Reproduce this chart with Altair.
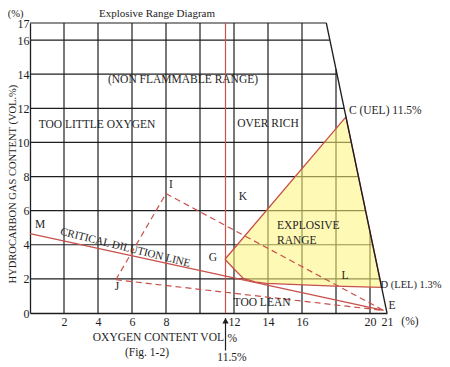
import altair as alt
import pandas as pd

FONT = "Liberation Serif"
RED = "#c8504a"
INK = "#1e1e1e"

# ---- data ----
x_ticks = [2, 4, 6, 8, 12, 14, 16, 20, 21]
y_ticks = [0, 2, 4, 6, 8, 10, 12, 14, 16, 17]

hgrid_y = [2, 4, 6, 8, 10, 12, 14, 16, 17]
hgrid_xend = [20.58, 20.16, 19.74, 19.32, 18.90, 18.48, 18.06, 17.64, 17.43]
vgrid_x = [2, 4, 6, 8, 10, 12, 14, 16, 18, 20]
vgrid_yend = [17, 17, 17, 17, 17, 17, 17, 17, 14.29, 4.76]

boundary_x = [17.43, 21.0]
boundary_y = [17.0, 0.0]

# explosive range polygon: G -> C -> D -> lower edge back to G
zone_x = [11.47, 18.585, 20.685, 17.94, 13.90, 13.24, 12.55, 11.96, 11.47]
zone_y = [3.15, 11.50, 1.50, 1.58, 1.74, 1.83, 2.03, 2.62, 3.15]

# solid line M -> E (critical dilution line)
crit_x = [0.0, 20.8]
crit_y = [4.65, 0.15]

# dashed lines: J-I, I-E, J-E
dash_id = ["JI", "JI", "IE", "IE", "JE", "JE"]
dash_x = [5.05, 8.0, 8.0, 20.8, 5.05, 20.8]
dash_y = [1.95, 7.0, 7.0, 0.15, 1.95, 0.15]

o2_mark = 11.5

labels_c = ["(%)", "Explosive Range Diagram", "(NON FLAMMABLE RANGE)", "TOO LITTLE OXYGEN",
            "OVER RICH", "I", "M", "K", "G", "L", "J", "TOO LEAN", "E", "(%)",
            "(Fig. 1-2)", "11.5%", "%"]
labels_c_x = [-0.85, 7.47, 9.0, 3.94, 14.0, 8.29, 0.59, 12.53, 10.76, 18.53, 5.12, 13.65, 21.3,
              22.35, 6.88, 11.88, 11.90]
labels_c_y = [17.52, 17.52, 13.66, 11.02, 11.08, 7.5, 5.16, 6.8, 3.22, 2.17, 1.52, 0.59, 0.41,
              -0.53, -2.34, -2.64, -1.52]
labels_c_size = [10.5, 11, 11.5, 11.5, 11.5, 11.5, 11.5, 11.5, 11.5, 11.5, 11.5, 11.5, 11.5,
                 11.5, 11.5, 11.5, 11.5]

labels_l = ["C (UEL) 11.5%", "EXPLOSIVE", "RANGE", "D (LEL) 1.3%"]
labels_l_x = [18.76, 14.53, 14.53, 20.62]
labels_l_y = [11.84, 5.1, 4.22, 1.64]
labels_l_size = [11.5, 11.5, 11.5, 10.5]

xscale = alt.Scale(domain=[0, 21], nice=False, zero=False)
yscale = alt.Scale(domain=[0, 17], nice=False, zero=False)

xaxis = alt.Axis(values=x_ticks, title=None, grid=False, ticks=False,
                 domainColor=INK, domainWidth=1.3, labelFont=FONT,
                 labelFontSize=12, labelColor=INK, labelPadding=3,
                 labelFlush=False, labelOverlap=False)
yaxis = alt.Axis(values=y_ticks, title=None, grid=False, ticks=False,
                 domainColor=INK, domainWidth=1.3, labelFont=FONT,
                 labelFontSize=12, labelColor=INK, labelPadding=1,
                 labelFlush=False, labelOverlap=False)


def X(field="x:Q"):
    return alt.X(field, scale=xscale, axis=xaxis)


def Y(field="y:Q"):
    return alt.Y(field, scale=yscale, axis=yaxis)


# ---- layers ----
hgrid = pd.DataFrame({"x": [0.0] * len(hgrid_y), "x2": hgrid_xend, "y": hgrid_y})
vgrid = pd.DataFrame({"x": vgrid_x, "y": [0.0] * len(vgrid_x), "y2": vgrid_yend})

hg = alt.Chart(hgrid).mark_rule(color=INK, strokeWidth=1.2).encode(
    x=X(), x2="x2:Q", y=Y())
vg = alt.Chart(vgrid).mark_rule(color=INK, strokeWidth=1.2).encode(
    x=X(), y=Y(), y2="y2:Q")

zone_df = pd.DataFrame({"x": zone_x, "y": zone_y, "i": list(range(len(zone_x)))})
zone = alt.Chart(zone_df).mark_line(fill="#fff47a", fillOpacity=0.55, stroke=RED,
                                    strokeWidth=1.3).encode(
    x=X(), y=Y(), order="i:Q")

bnd = alt.Chart(pd.DataFrame({"x": boundary_x, "y": boundary_y})).mark_line(
    color=INK, strokeWidth=1.3).encode(x=X(), y=Y())

vred = alt.Chart(pd.DataFrame({"x": [o2_mark], "y": [0.0], "y2": [17.0]})).mark_rule(
    color=RED, strokeWidth=1.2).encode(x=X(), y=Y(), y2="y2:Q")

crit = alt.Chart(pd.DataFrame({"x": crit_x, "y": crit_y})).mark_line(
    color=RED, strokeWidth=1.3).encode(x=X(), y=Y())

dash = alt.Chart(pd.DataFrame({"id": dash_id, "x": dash_x, "y": dash_y})).mark_line(
    color=RED, strokeWidth=1.2, strokeDash=[6, 4]).encode(
    x=X(), y=Y(), detail="id:N")

arrow_line = alt.Chart(pd.DataFrame({"x": [o2_mark], "y": [-2.2], "y2": [-0.3]})).mark_rule(
    color=INK, strokeWidth=1.2).encode(x=X(), y=Y(), y2="y2:Q")
arrow_head = alt.Chart(pd.DataFrame({"x": [o2_mark], "y": [-0.45]})).mark_point(
    shape="triangle-up", filled=True, color=INK, size=40, opacity=1).encode(
    x=X(), y=Y())

txt_c = alt.Chart(pd.DataFrame({"t": labels_c, "x": labels_c_x, "y": labels_c_y,
                                "s": labels_c_size})).mark_text(
    font=FONT, color=INK, align="center", baseline="middle").encode(
    x=X(), y=Y(), text="t:N", size=alt.Size("s:Q", scale=None, legend=None))

txt_l = alt.Chart(pd.DataFrame({"t": labels_l, "x": labels_l_x, "y": labels_l_y,
                                "s": labels_l_size})).mark_text(
    font=FONT, color=INK, align="left", baseline="middle").encode(
    x=X(), y=Y(), text="t:N", size=alt.Size("s:Q", scale=None, legend=None))

xtitle = alt.Chart(pd.DataFrame({"t": ["OXYGEN CONTENT VOL"], "x": [11.41], "y": [-1.47]})).mark_text(
    font=FONT, fontSize=11.5, color=INK, align="right", baseline="middle").encode(
    x=X(), y=Y(), text="t:N")

ytitle = alt.Chart(pd.DataFrame({"t": ["HYDROCARBON GAS CONTENT (VOL.%)"], "x": [-1.0], "y": [7.56]})).mark_text(
    font=FONT, fontSize=10.5, color=INK, align="center", baseline="middle", angle=270).encode(
    x=X(), y=Y(), text="t:N")

crit_lbl = alt.Chart(pd.DataFrame({"t": ["CRITICAL DILUTION LINE"], "x": [5.6], "y": [3.82]})).mark_text(
    font=FONT, fontSize=11, color=INK, align="center", baseline="middle", angle=14).encode(
    x=X(), y=Y(), text="t:N")

chart = alt.layer(
    hg, vg, zone, bnd, vred, crit, dash, arrow_line, arrow_head,
    txt_c, txt_l, xtitle, ytitle, crit_lbl
).properties(
    width=357, height=290, autosize="none",
    padding={"left": 22, "top": 15, "right": 55, "bottom": 54},
    background="white",
).configure_view(stroke=None)

chart.save("out.html", embed_options={"renderer": "svg", "actions": False})
